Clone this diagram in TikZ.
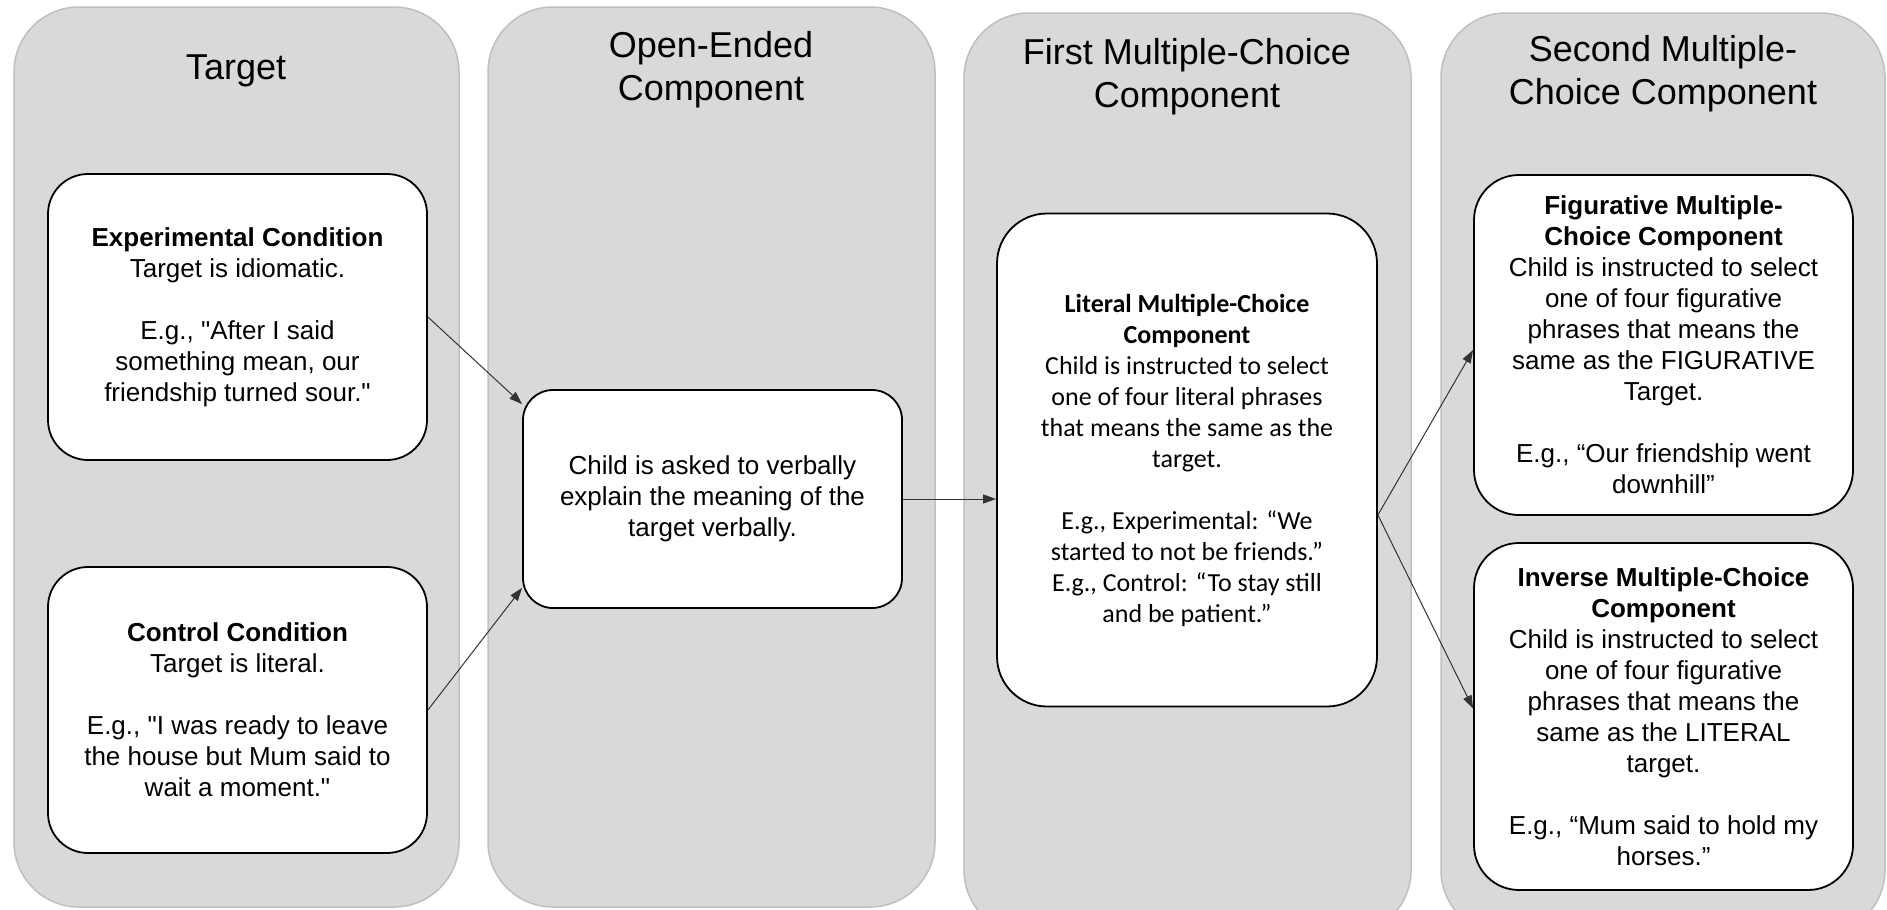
\documentclass[tikz,border=0pt]{standalone}
\usepackage{fontspec}
\setmainfont{Liberation Sans}[Ligatures=TeXOff]
\newfontfamily\calib{Carlito}[Ligatures=TeXOff]
\usetikzlibrary{arrows.meta}

\definecolor{colfill}{HTML}{D9D9D9}
\definecolor{colline}{HTML}{BFBFBF}
\definecolor{arrowcol}{HTML}{333333}

\begin{document}
\begin{tikzpicture}[x=1pt,y=-1pt,
  column/.style={fill=colfill,draw=colline,line width=1.5pt,rounded corners=65pt},
  coltitle/.style={font=\fontsize{36}{43}\selectfont,align=center,inner sep=0pt},
  card/.style={draw=black,fill=white,line width=1.8pt,align=center,inner sep=0pt,
    font=\fontsize{26}{31}\selectfont},
  flow/.style={draw=arrowcol,line width=1pt,-{Triangle[length=13pt,width=9pt]}}]

\useasboundingbox (0,0) rectangle (1887,910);
\fill[white] (0,0) rectangle (1887,910);

% four stage columns
\draw[column] (14,7) rectangle (459,907);
\draw[column] (488,7) rectangle (935,907);
\draw[column] (964,13) rectangle (1411,935);
\draw[column] (1441,13) rectangle (1885,935);

% column titles
\node[coltitle] (t1) at (236,71) {Target};
\node[coltitle] (t2) at (711,70) {Open-Ended\\Component};
\node[coltitle] (t3) at (1187,77) {First Multiple-Choice\\Component};
\node[coltitle] (t4) at (1663,74) {Second Multiple-\\Choice Component};

% stage boxes
\node[card,minimum width=379pt,minimum height=286pt,rounded corners=40pt] (exp) at (237.5,317)
  {\textbf{Experimental Condition}\\Target is idiomatic.\\[31pt]E.g., "After I said\\something mean, our\\friendship turned sour."};
\node[card,minimum width=379pt,minimum height=286pt,rounded corners=40pt] (ctrl) at (237.5,710)
  {\textbf{Control Condition}\\Target is literal.\\[31pt]E.g., "I was ready to leave\\the house but Mum said to\\wait a moment."};
\node[card,minimum width=379pt,minimum height=218pt,rounded corners=30pt] (open) at (712.5,499)
  {Child is asked to verbally\\explain the meaning of the\\target verbally.};
\node[card,minimum width=380pt,minimum height=493pt,rounded corners=50pt,
  font={\calib\fontsize{26}{31}\selectfont}] (lit) at (1187,460)
  {\textbf{Literal Multiple-Choice}\\\textbf{Component}\\Child is instructed to select\\one of four literal phrases\\that means the same as the\\target.\\[31pt]E.g., Experimental: “We\\started to not be friends.”\\E.g., Control: “To stay still\\and be patient.”};
\node[card,minimum width=379pt,minimum height=340pt,rounded corners=45pt] (fig) at (1663.5,345)
  {\textbf{Figurative Multiple-}\\\textbf{Choice Component}\\Child is instructed to select\\one of four figurative\\phrases that means the\\same as the FIGURATIVE\\Target.\\[31pt]E.g., “Our friendship went\\downhill”};
\node[card,minimum width=379pt,minimum height=347pt,rounded corners=45pt] (inv) at (1663.5,716.5)
  {\textbf{Inverse Multiple-Choice}\\\textbf{Component}\\Child is instructed to select\\one of four figurative\\phrases that means the\\same as the LITERAL\\target.\\[31pt]E.g., “Mum said to hold my\\horses.”};

% connectors
\draw[flow] (exp.east) -- ([yshift=-15pt]open.north west);
\draw[flow] (ctrl.east) -- ([yshift=21pt]open.south west);
\draw[flow] (open.east) -- (open.east -| lit.west);
\coordinate (litout) at ([yshift=-55pt]lit.east);
\draw[flow] (litout) -- ([yshift=-5pt]fig.west);
\draw[flow] (litout) -- ([yshift=8pt]inv.west);
\end{tikzpicture}
\end{document}
